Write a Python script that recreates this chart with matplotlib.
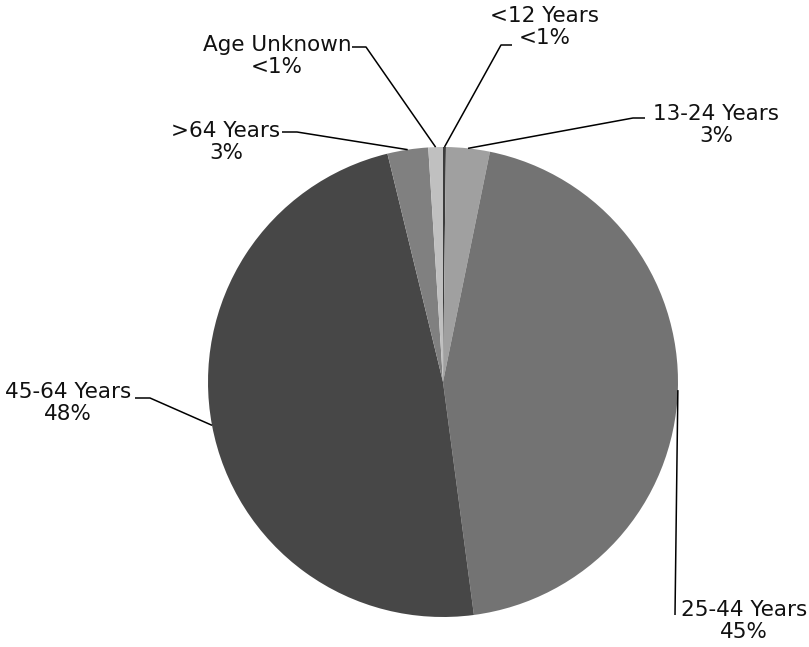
import numpy as np
import matplotlib
matplotlib.use("Agg")
import matplotlib.pyplot as plt

# age group shares (%), clockwise from 12 o'clock
groups = ['<12 Years', '13-24 Years', '25-44 Years', '45-64 Years', '>64 Years', 'Age Unknown']
shares = [0.2, 3.0, 44.7, 48.3, 2.8, 1.0]
shown = ['<1%', '3%', '45%', '48%', '3%', '<1%']
colors = ['#3c3c3c', '#a0a0a0', '#737373', '#474747', '#808080', '#c0c0c0']

W, H = 809, 647
cx, cy, r = 443, H - 382, 235

# label placement in pixels (text centre, elbow of leader line)
label_xy = [(545, 27), (716, 125), (744, 621), (68, 403), (226, 142), (277, 56)]
elbow_xy = [(501, 45), (633, 118), None, (150, 398), (297, 132), (366, 47)]
end_xy = [(512, 45), (645, 118), (675, 615), (135, 398), (282, 132), (352, 47)]

fig = plt.figure(figsize=(W / 100, H / 100), dpi=100)
ax = fig.add_axes([0, 0, 1, 1])

wedges, _ = ax.pie(shares, colors=colors, startangle=90, counterclock=False,
                   center=(cx, cy), radius=r, wedgeprops=dict(linewidth=0))

for w, g, s, txt, el, en in zip(wedges, groups, shown, label_xy, elbow_xy, end_xy):
    mid = np.deg2rad((w.theta1 + w.theta2) / 2)
    px, py = cx + r * np.cos(mid), cy + r * np.sin(mid)
    xs, ys = [px], [py]
    if el is not None:
        xs.append(el[0]); ys.append(H - el[1])
    xs.append(en[0]); ys.append(H - en[1])
    ax.plot(xs, ys, color='black', lw=1.1, solid_capstyle='butt')
    ax.text(txt[0], H - txt[1], f'{g}\n{s}', ha='center', va='center',
            fontsize=15.5, linespacing=1.08, color='#111111')

ax.set_xlim(0, W)
ax.set_ylim(0, H)
ax.set_aspect('equal')
ax.axis('off')

fig.savefig('out.png', dpi=100)
